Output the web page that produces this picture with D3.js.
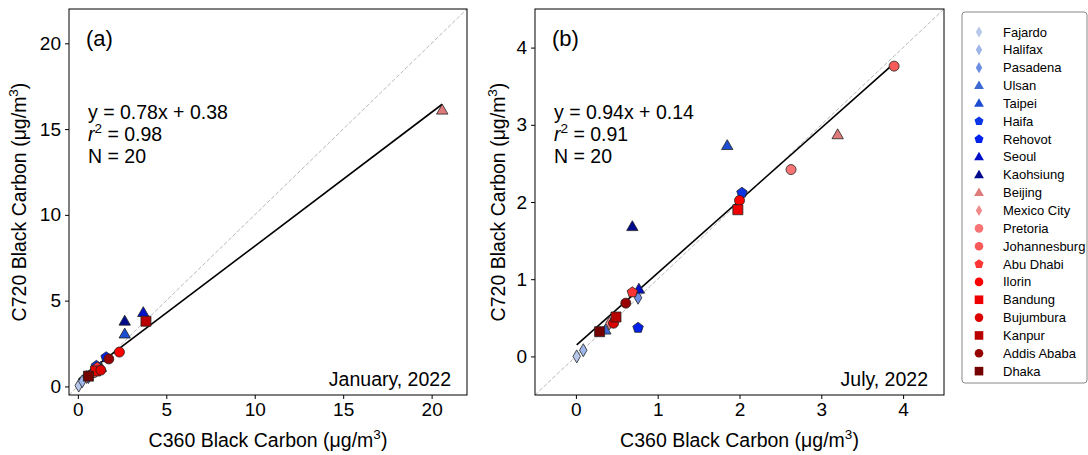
<!DOCTYPE html>
<html>
<head>
<meta charset="utf-8">
<script src="https://cdn.jsdelivr.net/npm/d3@7"></script>
<style>
  body { margin: 0; background: #fff; }
  svg { font-family: "Liberation Sans", Arial, sans-serif; }
</style>
</head>
<body>
<svg id="chart" width="1088" height="455"></svg>
<script>
// cities, styled like the legend
const cities = ['Fajardo', 'Halifax', 'Pasadena', 'Ulsan', 'Taipei', 'Haifa', 'Rehovot', 'Seoul', 'Kaohsiung',
  'Beijing', 'Mexico City', 'Pretoria', 'Johannesburg', 'Abu Dhabi', 'Ilorin', 'Bandung', 'Bujumbura',
  'Kanpur', 'Addis Ababa', 'Dhaka'];
const shapes = ['diamond', 'diamond', 'diamond', 'triangle', 'triangle', 'pentagon', 'pentagon', 'triangle', 'triangle',
  'triangle', 'diamond', 'circle', 'circle', 'pentagon', 'circle', 'square', 'circle', 'square', 'circle', 'square'];
const colors = ['#b7c8ea', '#9fb6ea', '#6d8de2', '#3d68d2', '#1d4dd0', '#0b34e6', '#0020ee', '#0010c8', '#000a8c',
  '#e07b7b', '#f08c8c', '#f87474', '#f85a5a', '#ff3434', '#ff0000', '#ee0000', '#dd0000', '#b80000', '#960000', '#740000'];

// January 2022 (panel a)
const janC360 = [0.05, 0.25, 0.6, 1.3, 2.65, 1.05, 1.6, 3.7, 2.65, 20.6, 0.5, 0.9, 1.2, 1.1, 2.35, 1.0, 1.3, 3.85, 1.75, 0.6];
const janC720 = [0.05, 0.3, 0.55, 1.1, 3.05, 1.2, 1.7, 4.3, 3.8, 16.1, 0.55, 0.8, 1.0, 1.1, 2.0, 0.9, 0.95, 3.8, 1.6, 0.6];
// July 2022 (panel b)
const julC360 = [0.01, 0.09, 0.76, 0.36, 1.85, 2.03, 0.76, 0.77, 0.69, 3.2, 0.41, 2.63, 3.89, 0.69, 2.0, 1.98, 0.46, 0.49, 0.61, 0.29];
const julC720 = [0.0, 0.08, 0.76, 0.34, 2.73, 2.12, 0.37, 0.87, 1.68, 2.87, 0.43, 2.42, 3.76, 0.83, 2.02, 1.9, 0.43, 0.51, 0.69, 0.32];

const janFit = { slope: 0.78, intercept: 0.38, r2: '0.98', n: 20 };
const julFit = { slope: 0.94, intercept: 0.14, r2: '0.91', n: 20 };
const janTicks = [0, 5, 10, 15, 20];
const julTicks = [0, 1, 2, 3, 4];

const svg = d3.select('#chart');

// custom marker shapes, size = radius-ish
const markerTypes = {
  circle: {
    draw(ctx, r) { ctx.moveTo(r, 0); ctx.arc(0, 0, r, 0, 2 * Math.PI); }
  },
  square: {
    draw(ctx, r) { ctx.rect(-r, -r, 2 * r, 2 * r); }
  },
  diamond: {
    draw(ctx, r) {
      const w = r * 0.75, h = r * 1.3;
      ctx.moveTo(0, -h); ctx.lineTo(w, 0); ctx.lineTo(0, h); ctx.lineTo(-w, 0); ctx.closePath();
    }
  },
  triangle: {
    draw(ctx, r) {
      const s = r * 1.2;
      ctx.moveTo(0, -s); ctx.lineTo(s * 0.95, s * 0.65); ctx.lineTo(-s * 0.95, s * 0.65); ctx.closePath();
    }
  },
  pentagon: {
    draw(ctx, r) {
      const s = r * 1.1;
      for (let i = 0; i < 5; i++) {
        const a = -Math.PI / 2 + i * 2 * Math.PI / 5;
        const px = s * Math.cos(a), py = s * Math.sin(a);
        if (i === 0) ctx.moveTo(px, py); else ctx.lineTo(px, py);
      }
      ctx.closePath();
    }
  }
};
const markerPath = (shape, r) => d3.symbol().type(markerTypes[shape]).size(r)();

function drawPanel(opt) {
  const x = d3.scaleLinear().domain(opt.domain).range([opt.left, opt.right]);
  const y = d3.scaleLinear().domain(opt.domain).range([opt.bottom, opt.top]);
  const g = svg.append('g');

  // 1:1 line
  g.append('line')
    .attr('x1', x(opt.domain[0])).attr('y1', y(opt.domain[0]))
    .attr('x2', x(opt.domain[1])).attr('y2', y(opt.domain[1]))
    .attr('stroke', '#b8b8b8').attr('stroke-width', 1)
    .attr('stroke-dasharray', '4,2');

  // fit line
  const xs = d3.extent(opt.xv);
  g.append('line')
    .attr('x1', x(xs[0])).attr('y1', y(opt.fit.slope * xs[0] + opt.fit.intercept))
    .attr('x2', x(xs[1])).attr('y2', y(opt.fit.slope * xs[1] + opt.fit.intercept))
    .attr('stroke', '#000').attr('stroke-width', 1.6);

  // points
  g.selectAll('path.pt')
    .data(cities.map((c, i) => i))
    .enter()
    .append('path')
    .attr('class', 'pt')
    .attr('d', (i) => markerPath(shapes[i], 5))
    .attr('transform', (i) => `translate(${x(opt.xv[i])},${y(opt.yv[i])})`)
    .attr('fill', (i) => colors[i])
    .attr('stroke', '#222')
    .attr('stroke-width', 0.8);

  // frame
  g.append('rect')
    .attr('x', opt.left).attr('y', opt.top)
    .attr('width', opt.right - opt.left).attr('height', opt.bottom - opt.top)
    .attr('fill', 'none').attr('stroke', '#000').attr('stroke-width', 1);

  const xAxis = g.append('g')
    .attr('transform', `translate(0,${opt.bottom})`)
    .call(d3.axisBottom(x).tickValues(opt.ticks).tickFormat(d3.format('d')).tickSize(4).tickPadding(4));
  const yAxis = g.append('g')
    .attr('transform', `translate(${opt.left},0)`)
    .call(d3.axisLeft(y).tickValues(opt.ticks).tickFormat(d3.format('d')).tickSize(4).tickPadding(4));
  [xAxis, yAxis].forEach((a) => {
    a.select('.domain').remove();
    a.selectAll('text').style('font-size', '19px').attr('fill', '#000')
      .style('font-family', '"Liberation Sans", Arial, sans-serif');
    a.selectAll('line').attr('stroke', '#000');
  });

  // axis titles
  const cx = (opt.left + opt.right) / 2;
  const xt = g.append('text').attr('x', cx).attr('y', 447)
    .attr('text-anchor', 'middle').style('font-size', '19.5px');
  xt.append('tspan').text('C360 Black Carbon (μg/m');
  xt.append('tspan').attr('dy', -8).style('font-size', '13.5px').text('3');
  xt.append('tspan').attr('dy', 8).text(')');

  const cy = (opt.top + opt.bottom) / 2;
  const yt = g.append('text')
    .attr('transform', `translate(${opt.left - opt.ylabOff},${cy}) rotate(-90)`)
    .attr('text-anchor', 'middle').style('font-size', '19.5px');
  yt.append('tspan').text('C720 Black Carbon (μg/m');
  yt.append('tspan').attr('dy', -8).style('font-size', '13.5px').text('3');
  yt.append('tspan').attr('dy', 8).text(')');

  // annotations
  g.append('text').attr('x', opt.left + 17).attr('y', 46).style('font-size', '22px').text(opt.tag);
  const tx = opt.left + 19;
  g.append('text').attr('x', tx).attr('y', 119).style('font-size', '19.5px')
    .text(`y = ${opt.fit.slope.toFixed(2)}x + ${opt.fit.intercept.toFixed(2)}`);
  const r2 = g.append('text').attr('x', tx).attr('y', 141).style('font-size', '19.5px');
  r2.append('tspan').style('font-style', 'italic').text('r');
  r2.append('tspan').attr('dy', -8).style('font-size', '13.5px').text('2');
  r2.append('tspan').attr('dy', 8).text(` = ${opt.fit.r2}`);
  g.append('text').attr('x', tx).attr('y', 163).style('font-size', '19.5px').text(`N = ${opt.fit.n}`);
  g.append('text').attr('x', opt.right - 16).attr('y', 386).attr('text-anchor', 'end')
    .style('font-size', '19.5px').text(opt.month);
}

drawPanel({
  left: 69, right: 467, top: 9, bottom: 395, domain: [-0.5, 22], ticks: janTicks,
  xv: janC360, yv: janC720, fit: janFit, tag: '(a)', month: 'January, 2022', ylabOff: 43
});
drawPanel({
  left: 535, right: 944, top: 9, bottom: 395, domain: [-0.5, 4.5], ticks: julTicks,
  xv: julC360, yv: julC720, fit: julFit, tag: '(b)', month: 'July, 2022', ylabOff: 30
});

// legend
const lg = svg.append('g');
lg.append('rect').attr('x', 962).attr('y', 12).attr('width', 125).attr('height', 371)
  .attr('rx', 3).attr('fill', '#fff').attr('stroke', '#888').attr('stroke-width', 1);
const rows = lg.selectAll('g.row')
  .data(cities)
  .enter()
  .append('g')
  .attr('class', 'row')
  .attr('transform', (d, i) => `translate(979,${32 + i * 17.85})`);
rows.append('path')
  .attr('d', (d, i) => markerPath(shapes[i], 4.3))
  .attr('fill', (d, i) => colors[i]);
rows.append('text')
  .attr('x', 24).attr('y', 4.5)
  .style('font-size', '13px')
  .text((d) => d);
</script>
</body>
</html>
